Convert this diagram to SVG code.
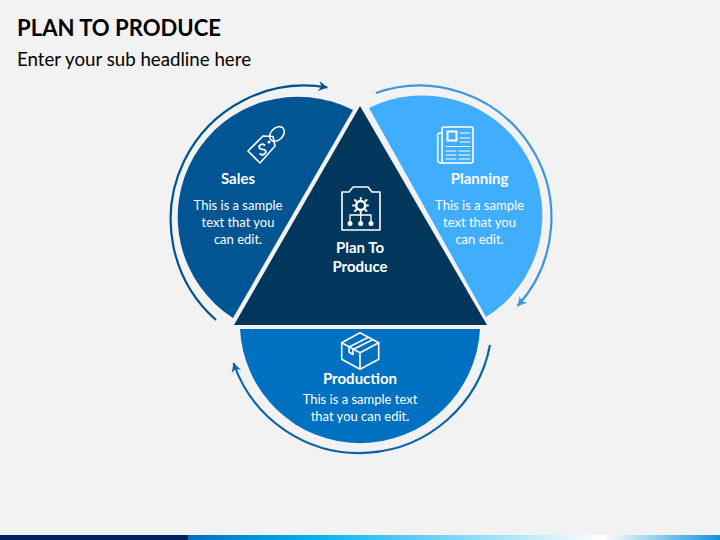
<svg xmlns="http://www.w3.org/2000/svg" width="720" height="540" viewBox="0 0 720 540">
<style>
text{font-family:"Lato","Open Sans","Liberation Sans",sans-serif;fill:#fff;text-anchor:middle}
.h{font-size:15px;font-weight:700}
.b{font-size:13px}
.ic{fill:none;stroke:#fff;stroke-width:1.6;stroke-linejoin:round;stroke-linecap:round}
.thin{stroke-width:1.1}
.dot{fill:#fff;stroke:none}
.arc{fill:none;stroke-width:2.2}
</style>
<defs>
<linearGradient id="bar" x1="188" y1="0" x2="720" y2="0" gradientUnits="userSpaceOnUse">
<stop offset="0" stop-color="#0070C0"/><stop offset="0.23" stop-color="#00B0F0"/><stop offset="0.78" stop-color="#FFFFFF"/><stop offset="1" stop-color="#0F94DC"/>
</linearGradient>
<marker id="a1" markerWidth="12" markerHeight="12" refX="9" refY="5" orient="auto" markerUnits="userSpaceOnUse"><path d="M0 0L9 5L0 10L3 5Z" fill="#01528F"/></marker>
<marker id="a2" markerWidth="12" markerHeight="12" refX="9" refY="5" orient="auto" markerUnits="userSpaceOnUse"><path d="M0 0L9 5L0 10L3 5Z" fill="#3D96DC"/></marker>
<marker id="a3" markerWidth="12" markerHeight="12" refX="9" refY="5" orient="auto" markerUnits="userSpaceOnUse"><path d="M0 0L9 5L0 10L3 5Z" fill="#0C63A8"/></marker>
</defs>
<rect width="720" height="540" fill="#F2F2F2"/>
<rect x="0" y="535" width="188" height="5" fill="#002060"/>
<rect x="188" y="535" width="532" height="5" fill="url(#bar)"/>
<g id="title">
<text x="17" y="36" style="text-anchor:start;fill:#000;font-size:23px;font-weight:700" textLength="204" lengthAdjust="spacingAndGlyphs">PLAN TO PRODUCE</text>
<text x="17" y="65.500" style="text-anchor:start;fill:#000;font-size:18.500px" textLength="234" lengthAdjust="spacingAndGlyphs">Enter your sub headline here</text>
</g>
<g id="connectors">
<path class="arc" stroke="#01528F" marker-end="url(#a1)" d="M216 320A134 134 0 0 1 327.500 87.500"/>
<path class="arc" stroke="#3D96DC" marker-end="url(#a2)" d="M376 93A132 132 0 0 1 517.500 306"/>
<path class="arc" stroke="#0C63A8" marker-end="url(#a3)" d="M490 345A133 133 0 0 1 233.500 363"/>
</g>
<g id="sales">
<path fill="#015592" d="M353 110A120.200 120.200 0 0 0 233 318Z"/>
<g class="ic"><path d="M248 151L260 163L275 146L273 136.500L263 136Z"/><ellipse cx="277" cy="134" rx="8.500" ry="6" transform="rotate(-45 277 134)"/><path d="M264.500 145C262 143 258 145.500 259.500 148C261 150.500 264 148.500 265.500 150.500C267 153 263 156 260 154" stroke-width="1.800"/></g>
<circle class="dot" cx="269" cy="142" r="1.500"/>
<text class="h" x="238" y="184">Sales</text>
<text class="b" x="238" y="210">This is a sample</text>
<text class="b" x="238" y="227">text that you</text>
<text class="b" x="238" y="244">can edit.</text>
</g>
<g id="planning">
<path fill="#41ADFF" d="M369 108A119.900 119.900 0 0 1 486 317Z"/>
<g class="ic"><rect x="442" y="127" width="31" height="36" rx="2"/><path d="M442 133H440C438.500 133 437.700 134 437.700 135V160C437.700 162 439 163 441 163H444"/><rect x="447.500" y="131.500" width="9" height="9" stroke-width="2"/></g>
<g class="ic thin"><path d="M460 133H470M460 138H470M460 142H470M446 146.500H470M446 151H456M459 151H470M446 155H456M459 155H470M446 159H456M459 159H470"/></g>
<text class="h" x="479.500" y="184">Planning</text>
<text class="b" x="479.500" y="210">This is a sample</text>
<text class="b" x="479.500" y="227">text that you</text>
<text class="b" x="479.500" y="244">can edit.</text>
</g>
<g id="production">
<path fill="#0070C0" d="M240 329H480A120.150 120.150 0 0 1 240 329Z"/>
<g class="ic"><path d="M360 332.700L378.700 342.700V359.300L360 369.300L341.700 359.300V342.700Z"/><path d="M341.700 342.700L360 352.700L378.700 342.700M360 352.700V369.300"/><path d="M368 337.500L349 347V352L353 354.500V349.500L372 340"/></g>
<text class="h" x="360" y="383.500">Production</text>
<text class="b" x="360" y="404">This is a sample text</text>
<text class="b" x="360" y="421">that you can edit.</text>
</g>
<g id="plan-to-produce">
<path fill="#01375D" d="M360 106L487 325H234Z"/>
<g class="ic"><path d="M349 192H342V230H380V192H372L368 187H353Z"/><circle cx="360.700" cy="205.500" r="4.500" stroke-width="2.600"/><path d="M360.700 199V198M360.700 213V212M354 205.500H353M368 205.500H367M356 201L355 200M365.500 201L366.500 200M356 210L355 211M365.500 210L366.500 211" stroke-width="2"/><path d="M360.700 212V223M350 223V215H371V223" stroke-width="1.300"/></g>
<circle class="dot" cx="350" cy="223.500" r="2.500"/><circle class="dot" cx="360.700" cy="223.500" r="2.500"/><circle class="dot" cx="371" cy="223.500" r="2.500"/>
<text class="h" x="360" y="253">Plan To</text>
<text class="h" x="360" y="272">Produce</text>
</g>
</svg>
